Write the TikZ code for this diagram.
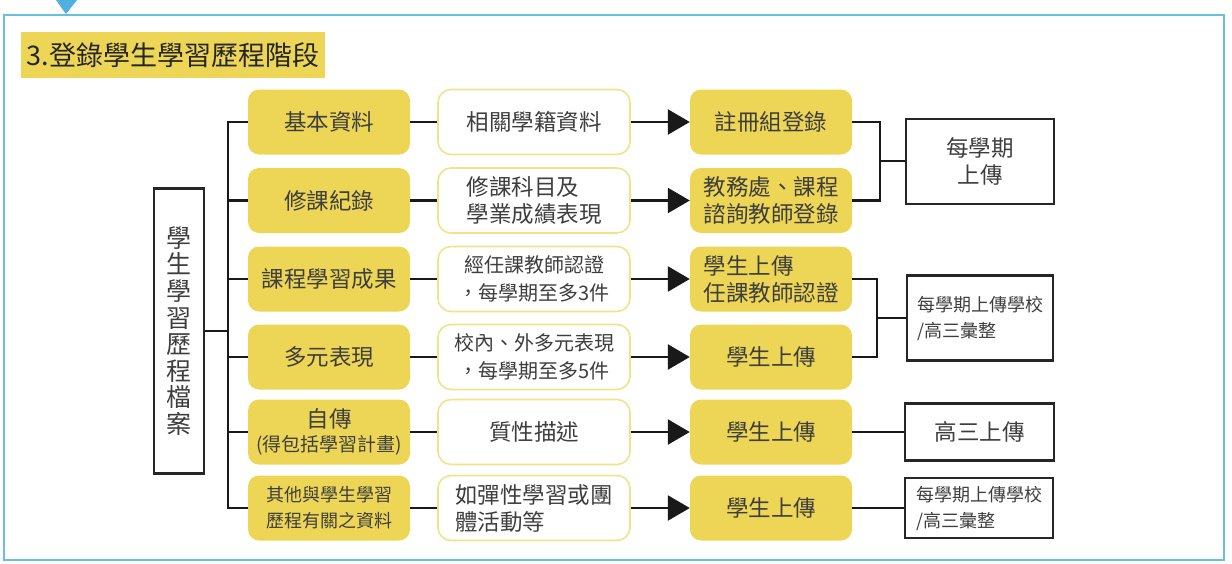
\documentclass[tikz,border=0pt]{standalone}
\usepackage{fontspec}
\setmainfont{Noto Sans CJK TC}
\usetikzlibrary{arrows.meta}
\definecolor{myyellow}{RGB}{237,214,86}
\definecolor{goldline}{RGB}{241,226,140}
\definecolor{txt}{RGB}{62,62,62}
\definecolor{frameblue}{RGB}{105,192,222}
\definecolor{triblue}{RGB}{80,175,225}
\tikzset{
  ybox/.style={rectangle, rounded corners=11pt, fill=myyellow, minimum width=162pt, minimum height=65pt, inner sep=0pt, align=center, text=txt},
  wbox/.style={rectangle, rounded corners=13pt, draw=goldline, line width=1.6pt, fill=white, minimum width=192pt, minimum height=65pt, inner sep=0pt, align=center, text=txt},
  rbox/.style={rectangle, draw=black!85, line width=2.2pt, inner sep=0pt, align=center, text=txt},
  conn/.style={draw=black!90, line width=2.4pt},
  arr/.style={conn, -{Triangle[length=22pt,width=25pt]}},
  fA/.style={font=\fontsize{22.5}{27}\selectfont},
  fB/.style={font=\fontsize{20}{28}\selectfont},
  fC/.style={font=\fontsize{18}{26}\selectfont},
}
\begin{document}
\begin{tikzpicture}[x=1pt,y=-1pt]
\useasboundingbox (0,0) rectangle (1232,563);
% frame
\draw[draw=frameblue, line width=2.8pt] (4,15) rectangle (1224,560);
\fill[triblue] (56,0) -- (77,0) -- (66,14) -- cycle;
% title
\node[rectangle, fill=myyellow, minimum width=304pt, minimum height=46pt, inner sep=0pt, text=black!85, font=\fontsize{27}{30}\selectfont] (title) at (173,55) {3.登錄學生學習歷程階段};
% left box
\node[rbox, minimum width=50pt, minimum height=285pt, font=\fontsize{25}{26.6}\selectfont] (L) at (179,331) {學\\生\\學\\習\\歷\\程\\檔\\案};
% column 1
\node[ybox, fA] (c1r1) at (329,122) {基本資料};
\node[ybox, fA] (c1r2) at (329,200.5) {修課紀錄};
\node[ybox, fA] (c1r3) at (329,279) {課程學習成果};
\node[ybox, fA] (c1r4) at (329,357) {多元表現};
\node[ybox, fA] (c1r5) at (329,432) {自傳\\[-3pt]\fontsize{19}{22}\selectfont(得包括學習計畫)};
\node[ybox, fC] (c1r6) at (329,508) {其他與學生學習\\歷程有關之資料};
% column 2
\node[wbox, fA] (c2r1) at (534,122) {相關學籍資料};
\node[wbox, fA, align=left] (c2r2) at (534,200.5) {修課科目及\\學業成績表現};
\node[wbox, fB] (c2r3) at (534,279) {經任課教師認證\\，每學期至多3件};
\node[wbox, fB] (c2r4) at (534,357) {校內、外多元表現\\，每學期至多5件};
\node[wbox, fA] (c2r5) at (534,432) {質性描述};
\node[wbox, fA, align=left] (c2r6) at (534,508) {如彈性學習或團\\體活動等};
% column 3
\node[ybox, fA] (c3r1) at (771,122) {註冊組登錄};
\node[ybox, fA] (c3r2) at (771,200.5) {教務處、課程\\諮詢教師登錄};
\node[ybox, fA, align=left] (c3r3) at (771,279) {學生上傳\\任課教師認證};
\node[ybox, fA] (c3r4) at (771,357) {學生上傳};
\node[ybox, fA] (c3r5) at (771,432) {學生上傳};
\node[ybox, fA] (c3r6) at (771,508) {學生上傳};
% right boxes
\node[rbox, fA, minimum width=148pt, minimum height=85pt] (B1) at (980,161.25) {每學期\\上傳};
\node[rbox, fC, align=left, minimum width=146pt, minimum height=85pt] (B2) at (980,318) {每學期上傳學校\\/高三彙整};
\node[rbox, fA, minimum width=149pt, minimum height=57pt] (B3) at (979.5,432) {高三上傳};
\node[rbox, fC, align=left, minimum width=148pt, minimum height=60pt] (B4) at (979,508) {每學期上傳學校\\/高三彙整};
% left tree
\coordinate (bx) at (228,0);
\draw[conn] (c1r1.west) -- (c1r1.west -| bx) -- (c1r6.west -| bx) -- (c1r6.west);
\draw[conn] (c1r2.west) -- (c1r2.west -| bx);
\draw[conn] (c1r3.west) -- (c1r3.west -| bx);
\draw[conn] (c1r4.west) -- (c1r4.west -| bx);
\draw[conn] (c1r5.west) -- (c1r5.west -| bx);
\draw[conn] (L.east) -- (L.east -| bx);
% col1 -> col2 -> col3
\foreach \r in {1,...,6} {
  \draw[conn] (c1r\r.east) -- (c2r\r.west);
  \draw[arr] (c2r\r.east) -- (c3r\r.west);
}
% right brackets
\draw[conn] (c3r1.east) -- ++(28,0) |- (c3r2.east);
\coordinate (k1) at (880,161.25);
\draw[conn] (k1) -- (B1.west);
\draw[conn] (c3r3.east) -- ++(25,0) |- (c3r4.east);
\coordinate (k2) at (877,318);
\draw[conn] (k2) -- (B2.west);
\draw[conn] (c3r5.east) -- (B3.west);
\draw[conn] (c3r6.east) -- (B4.west);
\end{tikzpicture}
\end{document}
